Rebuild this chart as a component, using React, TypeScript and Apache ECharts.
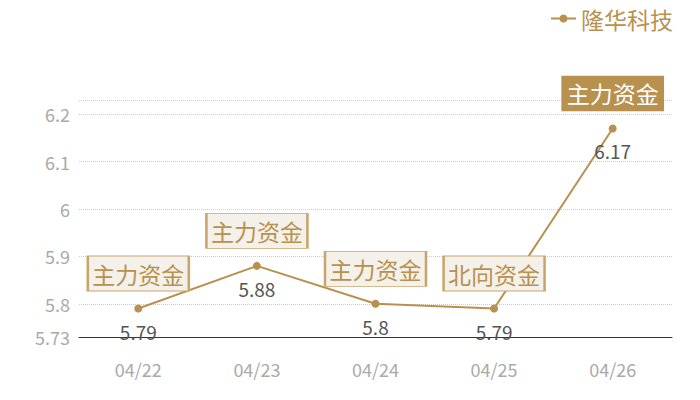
import { useEffect, useRef } from 'react';
import * as echarts from 'echarts';

const dates = ['04/22', '04/23', '04/24', '04/25', '04/26'];
const prices = [5.79, 5.88, 5.8, 5.79, 6.17];
const tags = ['主力资金', '主力资金', '主力资金', '北向资金', '主力资金'];
const highlighted = [false, false, false, false, true];
const seriesName = '隆华科技';

const GOLD = '#b8914f';
const FONT = '"Noto Sans CJK SC", "Noto Sans", sans-serif';

const App: React.FC = () => {
  const chartRef = useRef<HTMLDivElement>(null);

  useEffect(() => {
    if (!chartRef.current) return;
    const chart = echarts.init(chartRef.current, null, { renderer: 'svg' });

    const option = {
      animation: false,
      backgroundColor: '#fff',
      textStyle: { fontFamily: FONT },
      legend: {
        data: [seriesName],
        right: 22,
        top: 2,
        itemWidth: 25,
        itemHeight: 10,
        itemGap: 8,
        textStyle: { color: GOLD, fontSize: 23, fontFamily: FONT },
      },
      grid: { left: 79, right: 28, top: 100, bottom: 63 },
      xAxis: {
        type: 'category' as const,
        data: dates,
        axisLine: { lineStyle: { color: '#333' } },
        axisTick: { show: false },
        axisLabel: { color: '#aaa', fontSize: 18, margin: 23, fontFamily: FONT },
      },
      yAxis: {
        type: 'value' as const,
        min: 5.73,
        max: 6.23,
        axisLine: { show: false },
        axisTick: { show: false },
        axisLabel: { color: '#aaa', fontSize: 18, margin: 9, fontFamily: FONT },
        splitLine: { lineStyle: { color: '#ccc', type: 'dotted' } },
      },
      series: [
        {
          name: seriesName,
          type: 'line' as const,
          data: prices,
          symbol: 'circle',
          symbolSize: 8,
          itemStyle: { color: GOLD },
          lineStyle: { color: GOLD, width: 2 },
          label: {
            show: true,
            position: 'bottom' as const,
            distance: 9,
            color: '#555',
            fontSize: 19,
            fontFamily: FONT,
          },
          markPoint: {
            symbol: 'rect',
            symbolSize: [101, 35],
            symbolOffset: [0, -35],
            data: prices.map((p, i) => ({
              name: tags[i],
              coord: [i, p],
              itemStyle: highlighted[i]
                ? { color: GOLD, borderColor: GOLD, borderWidth: 1 }
                : { color: '#f4f0ea', borderColor: '#c9a56c', borderWidth: 1.5 },
              label: {
                show: true,
                formatter: '{b}',
                position: 'inside' as const,
                color: highlighted[i] ? '#fff' : GOLD,
                fontSize: 23,
                fontFamily: FONT,
              },
            })),
          },
        },
      ],
    };

    chart.setOption(option);
    return () => chart.dispose();
  }, []);

  return (
    <div
      ref={chartRef}
      style={{ position: 'absolute', left: 0, top: 0, width: 700, height: 400 }}
    />
  );
};

export default App;
